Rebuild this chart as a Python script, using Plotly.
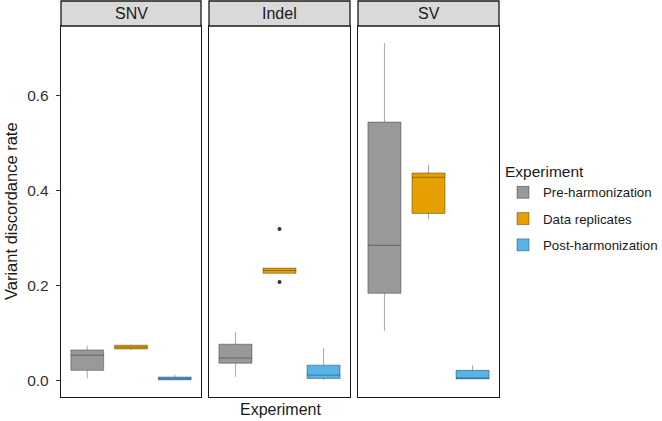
import plotly.graph_objects as go

panels = ["SNV", "Indel", "SV"]
groups = ["Pre-harmonization", "Data replicates", "Post-harmonization"]
colors = ["#999999", "#E69F00", "#56B4E9"]

# per panel, per group: [lower whisker, q1, median, q3, upper whisker]
snv_stats = [
    [0.005, 0.022, 0.054, 0.065, 0.074],
    [0.065, 0.067, 0.071, 0.075, 0.0755],
    [0.002, 0.002, 0.005, 0.008, 0.013],
]
indel_stats = [
    [0.0085, 0.037, 0.048, 0.077, 0.103],
    [0.226, 0.226, 0.232, 0.237, 0.237],
    [0.0015, 0.005, 0.012, 0.033, 0.0695],
]
sv_stats = [
    [0.105, 0.184, 0.285, 0.544, 0.710],
    [0.340, 0.352, 0.428, 0.437, 0.454],
    [0.004, 0.004, 0.006, 0.022, 0.033],
]
all_stats = [snv_stats, indel_stats, sv_stats]

# outliers: (panel index, group index, value)
outlier_panel = [1, 1]
outlier_group = [1, 1]
outlier_value = [0.319, 0.208]

y_ticks = [0.0, 0.2, 0.4, 0.6]

W, H = 662, 421
L, R, T, B = 61, 163, 1, 24
plot_w = W - L - R
plot_h = H - T - B
panel_px = [(61, 201), (209, 350), (358, 499)]
strip_top_px, strip_bot_px, panel_bot_px = 1, 26, 397

def px2x(p):
    return (p - L) / plot_w

def py2y(p):
    return (panel_bot_px - p) / plot_h

top_dom = py2y(strip_bot_px)

fig = go.Figure()
line_col = "rgba(0,0,0,0.34)"

for pi, stats in enumerate(all_stats):
    xa = "x" if pi == 0 else f"x{pi+1}"
    ya = "y" if pi == 0 else f"y{pi+1}"
    for gi, s in enumerate(stats):
        fig.add_trace(go.Box(
            x=[gi + 1], lowerfence=[s[0]], q1=[s[1]], median=[s[2]], q3=[s[3]], upperfence=[s[4]],
            name=groups[gi], legendgroup=groups[gi], showlegend=(pi == 0),
            fillcolor=colors[gi], line=dict(color=line_col, width=1),
            whiskerwidth=0, width=0.75, boxpoints=False,
            xaxis=xa, yaxis=ya,
        ))
    xs = [outlier_group[k] + 1 for k in range(len(outlier_value)) if outlier_panel[k] == pi]
    ys = [outlier_value[k] for k in range(len(outlier_value)) if outlier_panel[k] == pi]
    if xs:
        fig.add_trace(go.Scatter(x=xs, y=ys, mode="markers", showlegend=False,
                                 marker=dict(color="#333333", size=4),
                                 xaxis=xa, yaxis=ya, hoverinfo="y"))

layout = dict(
    width=W, height=H,
    margin=dict(l=L, r=R, t=T, b=B, autoexpand=False),
    plot_bgcolor="white", paper_bgcolor="white",
    font=dict(family="Liberation Sans, Arial, sans-serif", color="#1a1a1a", size=13),
    boxmode="overlay",
    showlegend=True,
    legend=dict(
        title=dict(text="Experiment", font=dict(size=15.5)),
        xref="container", yref="container",
        x=503 / W, y=1 - 157 / H, xanchor="left", yanchor="top",
        font=dict(size=13.3), tracegroupgap=6, bgcolor="rgba(0,0,0,0)",
    ),
)
shapes = []
annotations = []
for pi, (a, b) in enumerate(panel_px):
    xk = "xaxis" if pi == 0 else f"xaxis{pi+1}"
    yk = "yaxis" if pi == 0 else f"yaxis{pi+1}"
    xa = "x" if pi == 0 else f"x{pi+1}"
    ya = "y" if pi == 0 else f"y{pi+1}"
    layout[xk] = dict(domain=[px2x(a), px2x(b)], range=[0.4, 3.6], showticklabels=False,
                      ticks="", showgrid=False, zeroline=False, showline=True, anchor=ya,
                      linecolor="#1a1a1a", linewidth=1.3, mirror=True, fixedrange=True)
    yax = dict(domain=[0, top_dom], range=[-0.034, 0.746], showgrid=False, zeroline=False,
               showline=True, linecolor="#1a1a1a", linewidth=1.3, mirror=True, anchor=xa,
               tickvals=y_ticks, ticktext=[f"{v:.1f}" for v in y_ticks])
    if pi == 0:
        yax.update(ticks="outside", ticklen=4, tickcolor="#333333", tickwidth=1,
                   ticklabelstandoff=4, tickfont=dict(size=15.5, color="#333333"))
    else:
        yax.update(showticklabels=False, ticks="", matches="y")
    layout[yk] = yax
    shapes.append(dict(type="rect", xref="paper", yref="paper",
                       x0=px2x(a), x1=px2x(b), y0=top_dom, y1=py2y(strip_top_px),
                       fillcolor="#D9D9D9", line=dict(color="#1a1a1a", width=1.3)))
    annotations.append(dict(text=panels[pi], xref="paper", yref="paper",
                            x=(px2x(a) + px2x(b)) / 2, y=(top_dom + py2y(strip_top_px)) / 2,
                            showarrow=False, xanchor="center", yanchor="middle",
                            font=dict(size=16, color="#1a1a1a")))

annotations.append(dict(text="Experiment", xref="paper", yref="paper", x=px2x(280), y=py2y(409),
                        showarrow=False, xanchor="center", yanchor="middle",
                        font=dict(size=16, color="#1a1a1a")))
annotations.append(dict(text="Variant discordance rate", xref="paper", yref="paper",
                        x=px2x(11), y=py2y(211), textangle=-90, showarrow=False,
                        xanchor="center", yanchor="middle", font=dict(size=16.5, color="#1a1a1a")))
layout["shapes"] = shapes
layout["annotations"] = annotations
fig.update_layout(**layout)
fig.write_html("out.html", config={"displayModeBar": False},
               post_script="document.body.style.margin='0';")
